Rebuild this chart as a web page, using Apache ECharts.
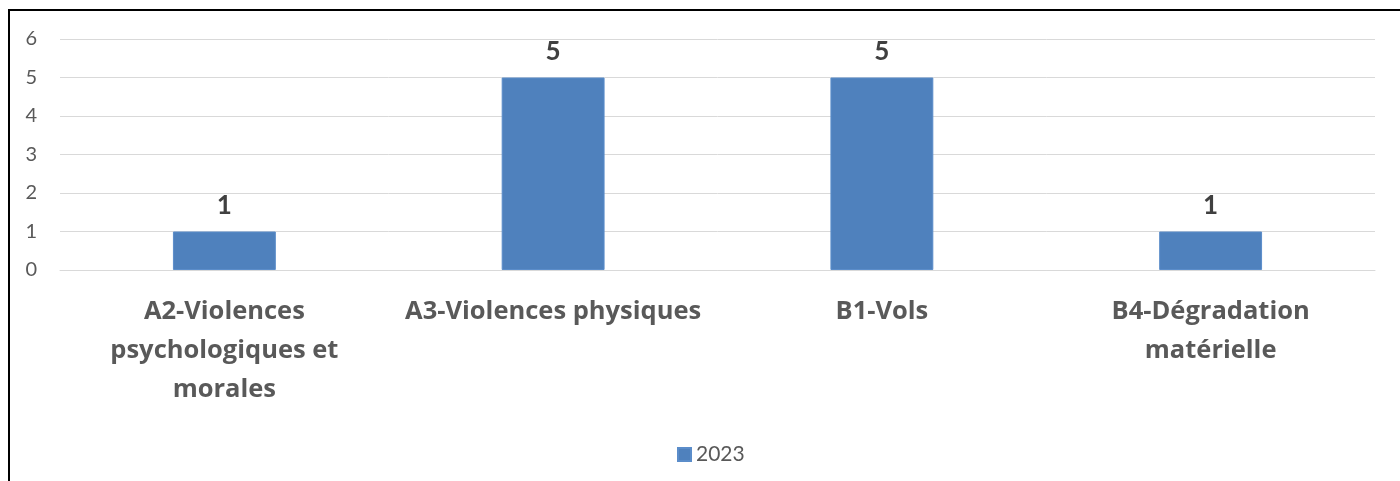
<!DOCTYPE html>
<html>
<head>
<meta charset="utf-8">
<script src="https://cdn.jsdelivr.net/npm/echarts@6/dist/echarts.min.js"></script>
<style>
  html, body { margin: 0; padding: 0; background: #fff; }
  #chart { width: 1400px; height: 481px; }
</style>
</head>
<body>
<div id="chart"></div>
<script>
// categories (with the line breaks as drawn) and values
const categories = [
  "A2-Violences\npsychologiques et\nmorales",
  "A3-Violences physiques",
  "B1-Vols",
  "B4-Dégradation\nmatérielle"
]
const values2023 = [1, 5, 5, 1]
const seriesName = "2023"

const chart = echarts.init(document.getElementById("chart"))

const option = {
  animation: false,
  textStyle: { fontFamily: "Lato" },
  // outer frame, only top and left edges are visible in the picture
  graphic: [
    {
      type: "rect",
      shape: { x: 9, y: 10, width: 1600, height: 800 },
      style: { fill: "none", stroke: "#000", lineWidth: 2 },
      silent: true
    }
  ],
  grid: {
    left: 60,
    right: 25,
    top: 39,
    bottom: 211
  },
  legend: {
    data: [seriesName],
    left: 672,
    top: 439,
    icon: "rect",
    itemWidth: 13,
    itemHeight: 13,
    itemGap: 6,
    textStyle: { fontSize: 21, color: "#595959", fontFamily: "Lato" }
  },
  xAxis: {
    type: "category",
    data: categories,
    axisLine: { show: true, lineStyle: { color: "#d9d9d9", width: 1 } },
    axisTick: { show: false },
    axisLabel: {
      interval: 0,
      margin: 22,
      fontSize: 25.5,
      fontWeight: "bold",
      fontFamily: "Open Sans",
      color: "#595959",
      lineHeight: 39
    }
  },
  yAxis: {
    type: "value",
    min: 0,
    max: 6,
    interval: 1,
    axisLine: { show: false },
    axisTick: { show: false },
    splitLine: { lineStyle: { color: "#d9d9d9", width: 1 } },
    axisLabel: {
      margin: 23,
      fontSize: 20,
      color: "#595959"
    }
  },
  series: [
    {
      name: seriesName,
      type: "bar",
      data: values2023,
      barWidth: "31.3%",
      itemStyle: {
        color: "#4f81bd",
        borderColor: "#5b8dca",
        borderWidth: 1
      },
      label: {
        show: true,
        position: "top",
        distance: 13,
        fontSize: 26,
        fontWeight: "bold",
        color: "#404040"
      }
    }
  ]
}

chart.setOption(option)
</script>
</body>
</html>
